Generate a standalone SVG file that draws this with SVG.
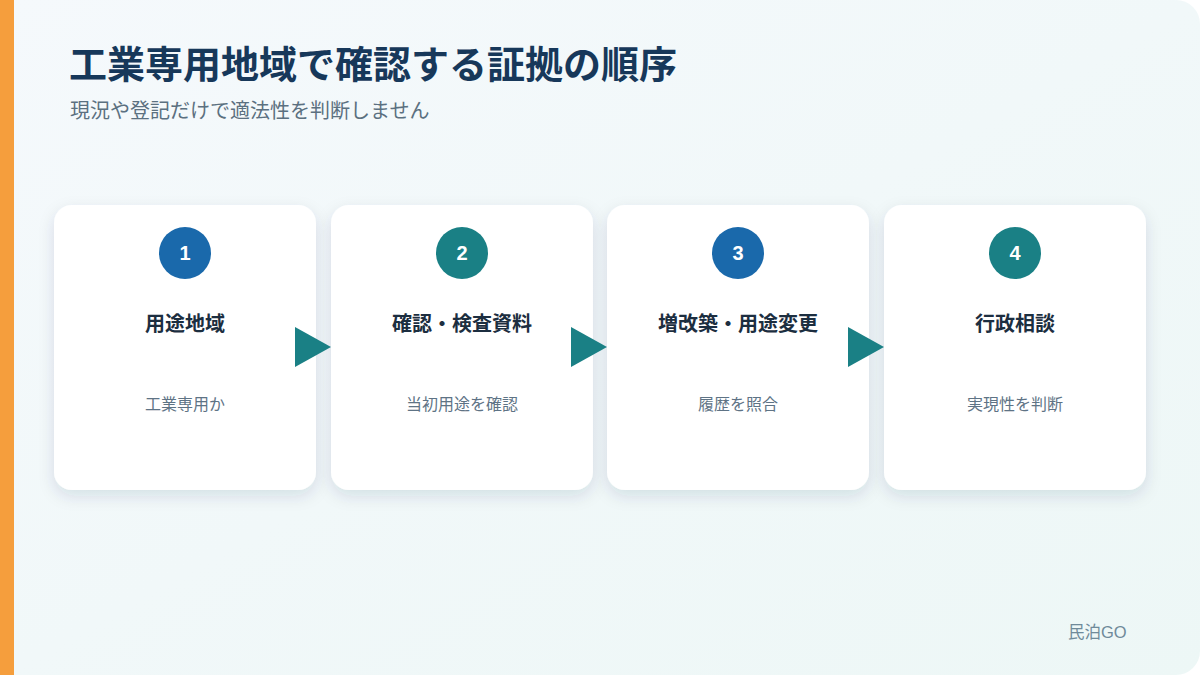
<svg xmlns="http://www.w3.org/2000/svg" width="1200" height="675" viewBox="0 0 1200 675">
<defs>
<linearGradient id="bg" x1="0" y1="0" x2="1" y2="1">
<stop offset="0" stop-color="#f5f9fc"/>
<stop offset="1" stop-color="#edf7f6"/>
</linearGradient>
<filter id="sh" x="-20%" y="-20%" width="140%" height="150%">
<feDropShadow dx="0" dy="6" stdDeviation="8" flood-color="#1d3c55" flood-opacity="0.12"/>
</filter>
<style>
.jp{font-family:"Liberation Sans","Noto Sans CJK JP",sans-serif}
.title{font-size:38px;font-weight:700;fill:#17385a}
.sub{font-size:20px;fill:#5b7080}
.card{fill:#ffffff;filter:url(#sh)}
.num{font-size:20px;font-weight:700;fill:#ffffff;text-anchor:middle}
.head{font-size:20px;font-weight:700;fill:#1c2e40;text-anchor:middle}
.desc{font-size:16px;fill:#5e7385;text-anchor:middle}
.blue{fill:#1a69ab}
.teal{fill:#1a8085}
.arrow{fill:#1a8085}
</style>
</defs>
<rect width="1200" height="675" fill="#ffffff"/>
<path d="M0 0 H1176 A24 24 0 0 1 1200 24 V651 A24 24 0 0 1 1176 675 H0 Z" fill="url(#bg)"/>
<rect x="0" y="0" width="14" height="675" fill="#f59e3d"/>
<text class="jp title" x="69" y="78">工業専用地域で確認する証拠の順序</text>
<text class="jp sub" x="70" y="118">現況や登記だけで適法性を判断しません</text>

<g id="step1">
<rect class="card" x="54" y="205" width="262" height="285" rx="18"/>
<circle class="blue" cx="185" cy="253" r="26"/>
<text class="jp num" x="185" y="260">1</text>
<text class="jp head" x="185" y="331">用途地域</text>
<text class="jp desc" x="185" y="410">工業専用か</text>
</g>
<g id="step2">
<rect class="card" x="331" y="205" width="262" height="285" rx="18"/>
<circle class="teal" cx="462" cy="253" r="26"/>
<text class="jp num" x="462" y="260">2</text>
<text class="jp head" x="462" y="331">確認・検査資料</text>
<text class="jp desc" x="462" y="410">当初用途を確認</text>
</g>
<g id="step3">
<rect class="card" x="607" y="205" width="262" height="285" rx="18"/>
<circle class="blue" cx="738" cy="253" r="26"/>
<text class="jp num" x="738" y="260">3</text>
<text class="jp head" x="738" y="331">増改築・用途変更</text>
<text class="jp desc" x="738" y="410">履歴を照合</text>
</g>
<g id="step4">
<rect class="card" x="884" y="205" width="262" height="285" rx="18"/>
<circle class="teal" cx="1015" cy="253" r="26"/>
<text class="jp num" x="1015" y="260">4</text>
<text class="jp head" x="1015" y="331">行政相談</text>
<text class="jp desc" x="1015" y="410">実現性を判断</text>
</g>

<g id="connectors">
<polygon class="arrow" points="295,327 331,347 295,367"/>
<polygon class="arrow" points="571,327 607,347 571,367"/>
<polygon class="arrow" points="848,327 884,347 848,367"/>
</g>

<text class="jp" x="1068" y="638" font-size="16.5" fill="#6f8a9a">民泊GO</text>
</svg>
